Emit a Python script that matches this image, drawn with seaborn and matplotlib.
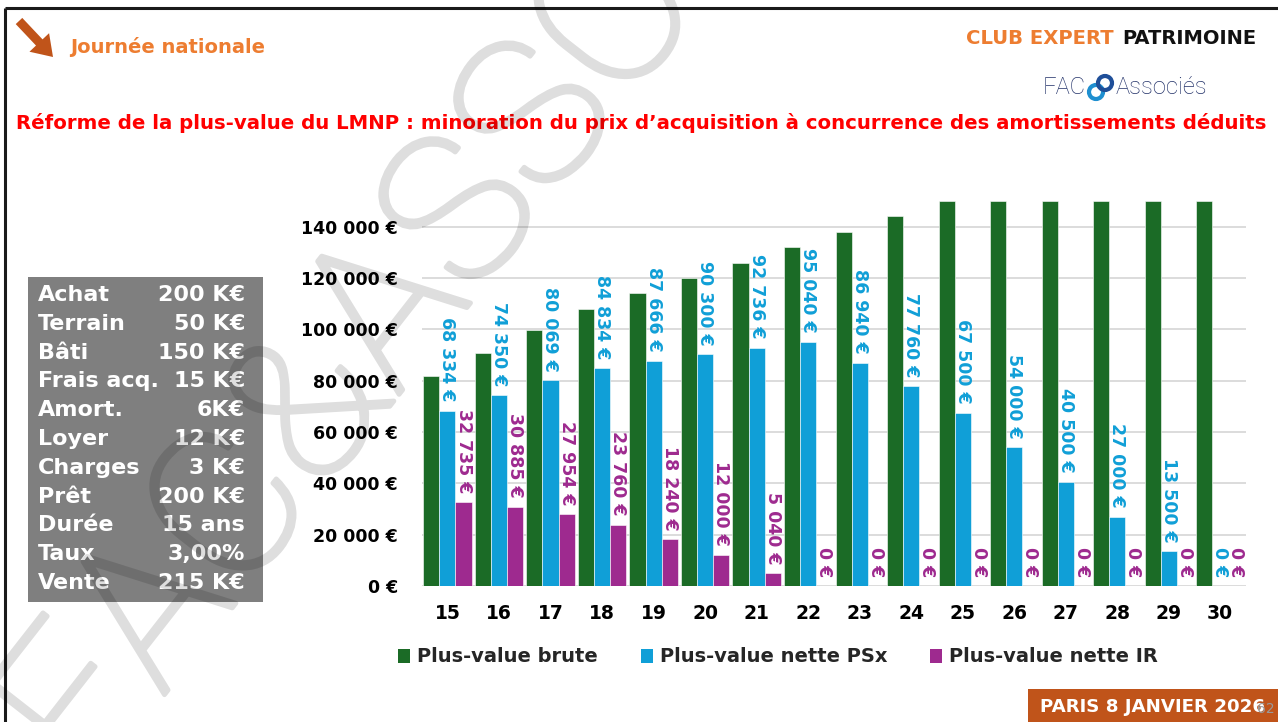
import matplotlib
matplotlib.use("Agg")
import matplotlib.pyplot as plt
import matplotlib.patheffects as pe
from matplotlib.patches import Rectangle, FancyArrow, Circle, Patch
import pandas as pd
import seaborn as sns

# --- Data -------------------------------------------------------------------
annees = [15, 16, 17, 18, 19, 20, 21, 22, 23, 24, 25, 26, 27, 28, 29, 30]
pv_brute = [81837, 90837, 99837, 108000, 114000, 120000, 126000, 132000,
            138000, 144000, 150000, 150000, 150000, 150000, 150000, 150000]
pv_nette_ps = [68334, 74350, 80069, 84834, 87666, 90300, 92736, 95040,
               86940, 77760, 67500, 54000, 40500, 27000, 13500, 0]
pv_nette_ir = [32735, 30885, 27954, 23760, 18240, 12000, 5040, 0,
               0, 0, 0, 0, 0, 0, 0, 0]
series = ["Plus-value brute", "Plus-value nette PSx", "Plus-value nette IR"]
y_ticks = [0, 20000, 40000, 60000, 80000, 100000, 120000, 140000]

hypotheses_libelles = ["Achat", "Terrain", "Bâti", "Frais acq.", "Amort.", "Loyer",
                       "Charges", "Prêt", "Durée", "Taux", "Vente"]
hypotheses_valeurs = ["200 K€", "50 K€", "150 K€", "15 K€", "6K€", "12 K€",
                      "3 K€", "200 K€", "15 ans", "3,00%", "215 K€"]

titre = ("Réforme de la plus-value du LMNP : minoration du prix d’acquisition "
         "à concurrence des amortissements déduits")

# --- Styles -----------------------------------------------------------------
VERT, BLEU, VIOLET = "#1b6b26", "#109fd7", "#9e2a8f"
ORANGE, ORANGE_FONCE = "#ed7d31", "#c0541a"
palette = dict(zip(series, [VERT, BLEU, VIOLET]))

sns.set_theme(style="white")
plt.rcParams["font.family"] = ["DejaVu Sans"]

W, H = 1278, 722
fig = plt.figure(figsize=(W / 100, H / 100), dpi=100)
fig.patch.set_facecolor("white")
renderer = fig.canvas.get_renderer()


def fx(px):
    return px / W


def fy(py):
    return 1 - py / H


def euro(v):
    return f"{v:,}".replace(",", " ") + " €"


def fit_width(txt, target_px):
    """Scale a text's font size so that it spans target_px pixels."""
    w = txt.get_window_extent(renderer).width
    txt.set_fontsize(txt.get_fontsize() * target_px / w)
    return txt


# --- Decoration layer (pixel coordinates) -----------------------------------
deco = fig.add_axes([0, 0, 1, 1], zorder=0)
deco.set_xlim(0, W)
deco.set_ylim(H, 0)
deco.axis("off")

# slide frame
deco.plot([5, W], [8, 8], color="#1a1a1a", lw=2.2, solid_capstyle="butt")
deco.plot([5, 5], [8, H], color="#1a1a1a", lw=2.2, solid_capstyle="butt")

# header
deco.add_patch(FancyArrow(19, 21, 34, 36, width=9, head_width=27, head_length=20,
                          length_includes_head=True, color=ORANGE_FONCE, lw=0))
fit_width(deco.text(70, 47, "Journée nationale", color=ORANGE, fontsize=14,
                    fontweight="bold", va="center", ha="left"), 195)
fit_width(deco.text(1256, 38, "PATRIMOINE", color="#111111", fontsize=14,
                    fontweight="bold", va="center", ha="right"), 135)
fit_width(deco.text(966, 38, "CLUB EXPERT", color=ORANGE, fontsize=14,
                    fontweight="bold", va="center", ha="left"), 148)

# logo
assoc = fit_width(deco.text(1116, 87, "Associés", color="#24336a", fontsize=15,
                            family="Roboto", fontweight="light",
                            va="center", ha="left"), 92)
deco.text(1043, 87, "FAC", color="#24336a", fontsize=assoc.get_fontsize(),
          family="Roboto", fontweight="light", va="center", ha="left")
deco.add_patch(Circle((1096, 92), 7, fill=False, ec="#1e8fd0", lw=3))
deco.add_patch(Circle((1105, 83), 7, fill=False, ec="#1f4f99", lw=3))

fit_width(deco.text(641, 123, titre, color="#ff0000", fontsize=15, fontweight="bold",
                    va="center", ha="center"), 1254)

# hypotheses box
deco.add_patch(Rectangle((28, 277), 235, 325, color="#7f7f7f", lw=0))
for i, (lib, val) in enumerate(zip(hypotheses_libelles, hypotheses_valeurs)):
    yy = 295 + i * 28.8
    deco.text(38, yy, lib, color="white", fontsize=16, fontweight="bold",
              va="center", ha="left")
    deco.text(245, yy, val, color="white", fontsize=16, fontweight="bold",
              va="center", ha="right")

# footer banner
deco.add_patch(Rectangle((1028, 689), 252, 35, color=ORANGE_FONCE, lw=0))
fit_width(deco.text(1040, 707, "PARIS 8 JANVIER 2026", color="white", fontsize=14,
                    fontweight="bold", va="center", ha="left"), 226)
deco.text(1266, 709, "62", color="#9a9a9a", fontsize=10, va="center", ha="center")

# --- Chart ------------------------------------------------------------------
df = pd.DataFrame({
    "Année": [str(a) for a in annees] * 3,
    "Série": [s for s in series for _ in annees],
    "Valeur": pv_brute + pv_nette_ps + pv_nette_ir,
})

ax = fig.add_axes([fx(421.7), fy(586), fx(1246) - fx(421.7), fy(201) - fy(586)],
                  zorder=1)
ax.patch.set_alpha(0)
sns.barplot(data=df, x="Année", y="Valeur", hue="Série", hue_order=series,
            order=[str(a) for a in annees], palette=palette, saturation=1,
            width=0.935, gap=0, legend=False, ax=ax,
            edgecolor="#ffffff", linewidth=0.4)

ax.set_ylim(0, 150000)
ax.set_yticks(y_ticks)
ax.set_yticklabels([euro(v) for v in y_ticks])
ax.set_xlabel("")
ax.set_ylabel("")
for s in ax.spines.values():
    s.set_visible(False)
ax.yaxis.grid(True, color="#d9d9d9", lw=1.3)
ax.xaxis.grid(False)
ax.set_axisbelow(True)
ax.tick_params(axis="y", length=0, pad=17, labelsize=12.5, labelcolor="black")
ax.tick_params(axis="x", length=0, pad=13, labelsize=13.5, labelcolor="black")
for lab in ax.get_yticklabels() + ax.get_xticklabels():
    lab.set_fontweight("bold")

# rotated value labels for the net series
for cont, vals, col in zip(ax.containers[1:], [pv_nette_ps, pv_nette_ir], [BLEU, VIOLET]):
    for bar, v in zip(cont, vals):
        ax.annotate(euro(v), (bar.get_x() + bar.get_width() / 2, v),
                    xytext=(0, 6.5), textcoords="offset points",
                    rotation=270, ha="center", va="bottom",
                    color=col, fontsize=12.5, fontweight="bold",
                    annotation_clip=False)

# legend
handles = [Patch(facecolor=palette[s], edgecolor="none", label=s) for s in series]
fig.legend(handles=handles, loc="center", bbox_to_anchor=(fx(778), fy(657)),
           ncol=3, frameon=False, handlelength=0.62, handleheight=0.72,
           handletextpad=0.36, columnspacing=2.2,
           prop=dict(weight="bold", size=14))

# --- Watermark overlay ------------------------------------------------------
over = fig.add_axes([0, 0, 1, 1], zorder=5)
over.set_xlim(0, W)
over.set_ylim(H, 0)
over.axis("off")


def translucent(img, dpi):
    """Turn the rendered watermark into a uniform, faint grey layer."""
    out = img.copy()
    out[..., :3] = 0.0
    out[..., 3] = out[..., 3] * 0.13
    return out, 0, 0


wm = over.text(90, 790, "FAC&ASSOCIÉS", rotation=52, rotation_mode="anchor",
               ha="left", va="baseline", fontsize=148, family="Roboto",
               fontweight="light", color="black",
               path_effects=[pe.Stroke(linewidth=3.5, foreground="black"), pe.Normal()])
wm.set_agg_filter(translucent)

fig.savefig("out.png", dpi=100)
